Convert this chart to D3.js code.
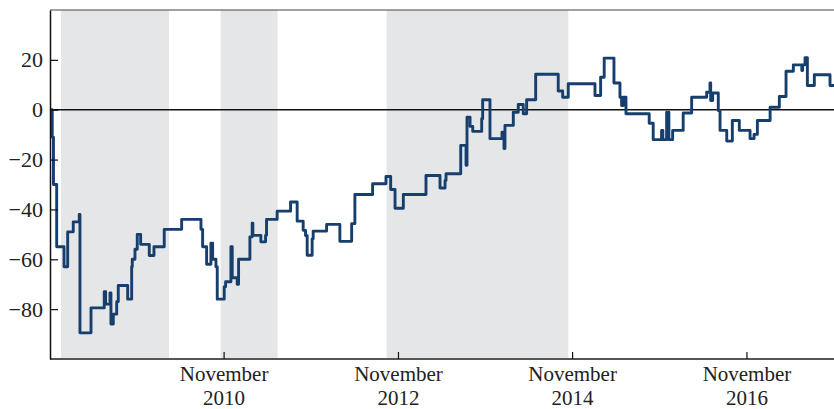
<!DOCTYPE html>
<html>
<head>
<meta charset="utf-8">
<script src="https://cdn.jsdelivr.net/npm/d3@7"></script>
<style>
  body { margin: 0; background: #fff; }
  svg text { font-family: "Liberation Serif", "DejaVu Serif", serif; fill: #222; }
</style>
</head>
<body>
<svg width="834" height="409"></svg>
<script>
// step dates as decimal years
var stepYears = [
  2008.833, 2008.859, 2008.873, 2008.910, 2008.994, 2009.036, 2009.100, 2009.169, 2009.177, 2009.304,
  2009.456, 2009.472, 2009.522, 2009.533, 2009.560, 2009.599, 2009.617, 2009.725, 2009.771, 2009.778,
  2009.809, 2009.835, 2009.874, 2009.973, 2010.027, 2010.145, 2010.345, 2010.567, 2010.586, 2010.632,
  2010.681, 2010.701, 2010.739, 2010.754, 2010.834, 2010.850, 2010.911, 2010.926, 2010.983, 2010.999,
  2011.129, 2011.155, 2011.163, 2011.255, 2011.309, 2011.320, 2011.442, 2011.596, 2011.672, 2011.741,
  2011.768, 2011.787, 2011.844, 2011.856, 2012.010, 2012.162, 2012.297, 2012.334, 2012.537, 2012.690,
  2012.744, 2012.794, 2012.889, 2013.149, 2013.310, 2013.368, 2013.379, 2013.548, 2013.609, 2013.620,
  2013.655, 2013.686, 2013.789, 2013.800, 2013.884, 2014.022, 2014.045, 2014.056, 2014.152, 2014.209,
  2014.266, 2014.305, 2014.409, 2014.668, 2014.719, 2014.783, 2015.090, 2015.155, 2015.196, 2015.308,
  2015.377, 2015.396, 2015.415, 2015.446, 2015.713, 2015.759, 2015.855, 2015.870, 2015.913, 2015.939,
  2015.982, 2016.103, 2016.200, 2016.295, 2016.372, 2016.410, 2016.418, 2016.441, 2016.505, 2016.525,
  2016.602, 2016.666, 2016.746, 2016.869, 2016.915, 2016.953, 2017.099, 2017.205, 2017.282, 2017.366,
  2017.463, 2017.472, 2017.500, 2017.527, 2017.607, 2017.787, 2017.833
];
var stepValues = [
  0, -11, -30, -55, -63, -49, -45, -42, -89.5, -79.5,
  -73, -78, -73.5, -86, -82, -77, -70.5, -76, -63, -60,
  -56, -50, -54, -58.5, -55, -48, -44, -48, -55, -62,
  -53.5, -60, -63, -76, -71, -69, -55, -67.4, -70, -60,
  -51, -45.5, -50.4, -53, -50.4, -44, -40.7, -37, -44.7, -48.4,
  -50.5, -58.4, -51.8, -48.7, -46, -52.8, -45.7, -34, -29.7, -26.8,
  -32, -39.5, -34, -26.4, -31.4, -28.4, -25.7, -14.3, -22.3, -3,
  -6.7, -8.7, -3.6, 4, -11.6, -9, -15.6, -6.3, -1, 2.1,
  -1.6, 4, 14.2, 7.5, 5, 10.4, 5.7, 13, 20.7, 10.7,
  5, 1.7, 5, -1.6, -5.4, -12, -8.3, -12, -1, -12,
  -8.3, -1.3, 5, 5, 7, 10.7, 3.7, 6.7, -0.3, -8.3,
  -12.6, -4.3, -8.3, -11.6, -9.9, -4.3, 1, 5.3, 15.4, 18,
  15.7, 18, 20.9, 9.7, 14, 9.7, 9.7
];
// shaded periods (decimal years)
var shadeStart = [2008.959, 2010.793, 2012.698];
var shadeEnd   = [2010.199, 2011.447, 2014.783];
var yTicks = [20, 0, -20, -40, -60, -80];
var xTickYears = [2010, 2012, 2014, 2016];
var xTickMonth = "November";

function fromDecimal(t) {
  var yr = Math.floor(t);
  var a = new Date(yr, 0, 1), b = new Date(yr + 1, 0, 1);
  return new Date(+a + (t - yr) * (b - a));
}

var svg = d3.select("svg");
var pLeft = 50, pRight = 834, pTop = 10, pBottom = 359;

var x = d3.scaleTime()
  .domain([new Date(2008, 10, 1), new Date(2017, 10, 1)])
  .range([pLeft, pRight]);
var y = d3.scaleLinear()
  .domain([-100, 40])
  .range([pBottom, pTop]);

svg.append("clipPath").attr("id", "clip")
  .append("rect").attr("x", pLeft).attr("y", pTop)
  .attr("width", pRight - pLeft).attr("height", pBottom - pTop);

// shading
svg.append("g").selectAll("rect")
  .data(shadeStart.map(function(s, i) { return [s, shadeEnd[i]]; }))
  .enter().append("rect")
  .attr("x", function(d) { return x(fromDecimal(d[0])); })
  .attr("width", function(d) { return x(fromDecimal(d[1])) - x(fromDecimal(d[0])); })
  .attr("y", pTop)
  .attr("height", pBottom - pTop)
  .attr("fill", "#e5e6e8");

// zero line
svg.append("line")
  .attr("x1", pLeft).attr("x2", pRight)
  .attr("y1", y(0)).attr("y2", y(0))
  .attr("stroke", "#111").attr("stroke-width", 1.6);

// series
var data = stepYears.map(function(t, i) { return { date: fromDecimal(t), value: stepValues[i] }; });
var line = d3.line()
  .x(function(d) { return x(d.date); })
  .y(function(d) { return y(d.value); })
  .curve(d3.curveStepAfter);

svg.append("path")
  .datum(data)
  .attr("clip-path", "url(#clip)")
  .attr("d", line)
  .attr("fill", "none")
  .attr("stroke", "#173f6d")
  .attr("stroke-width", 2.9)
  .attr("stroke-linejoin", "round");

// frame
svg.append("line").attr("x1", pLeft).attr("x2", pRight).attr("y1", pTop).attr("y2", pTop)
  .attr("stroke", "#444").attr("stroke-width", 1.2);
svg.append("line").attr("x1", pLeft).attr("x2", pRight).attr("y1", pBottom).attr("y2", pBottom)
  .attr("stroke", "#555").attr("stroke-width", 2);

// y axis
var yAxis = d3.axisLeft(y).tickValues(yTicks).tickSizeInner(-8).tickSizeOuter(0).tickPadding(7);
var gy = svg.append("g").attr("transform", "translate(" + pLeft + ",0)").call(yAxis);
gy.select(".domain").attr("stroke", "#111").attr("stroke-width", 1.5);
gy.selectAll(".tick line").attr("stroke", "#111").attr("stroke-width", 1.2);
gy.selectAll(".tick text").attr("font-size", "22px").attr("fill", "#222")
  .attr("font-family", "Liberation Serif, serif");

// x axis
var xt = svg.append("g").selectAll("g")
  .data(xTickYears).enter().append("g")
  .attr("transform", function(d) { return "translate(" + x(new Date(d, 10, 1)) + ",0)"; });
xt.append("line").attr("y1", pBottom).attr("y2", pBottom - 7)
  .attr("stroke", "#111").attr("stroke-width", 1.2);
xt.append("text").attr("y", 381).attr("text-anchor", "middle").attr("font-size", "21px")
  .text(xTickMonth);
xt.append("text").attr("y", 405).attr("text-anchor", "middle").attr("font-size", "21px")
  .text(function(d) { return d; });
</script>
</body>
</html>
